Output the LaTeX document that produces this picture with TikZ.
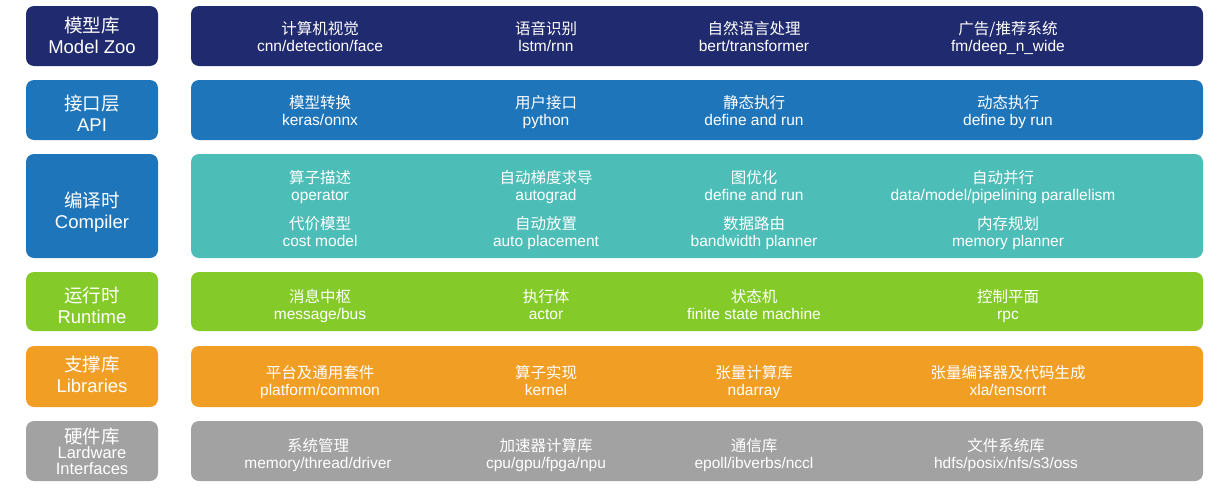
\documentclass[tikz,border=0pt]{standalone}
\usepackage{fontspec}
\setmainfont{Liberation Sans}
\newfontfamily\cjk{Noto Sans CJK SC}
\newcommand{\zh}[1]{{\cjk #1}}
\usetikzlibrary{positioning}

\begin{document}
\begin{tikzpicture}[
    x=1pt, y=-1pt,
    side/.style={rounded corners=8pt,minimum width=132pt,inner sep=0pt,align=center,text=white,font=\fontsize{18.5}{21}\selectfont,
                 execute at end node=\rule[-4.5pt]{0pt}{4.5pt}},
    push/.style={execute at begin node=\rule{0pt}{#1}},
    bar/.style={rounded corners=8pt,minimum width=1012pt,inner sep=0pt},
    item/.style={inner sep=0pt,align=center,text=white,font=\fontsize{15.5}{17}\selectfont,
                 execute at end node=\rule[-4.5pt]{0pt}{4.5pt}},
]
\definecolor{zoocol}{RGB}{32,42,110}
\definecolor{apicol}{RGB}{31,117,186}
\definecolor{compcol}{RGB}{77,189,184}
\definecolor{runcol}{RGB}{132,203,42}
\definecolor{libcol}{RGB}{241,158,37}
\definecolor{hwcol}{RGB}{162,162,162}

\useasboundingbox (0,0) rectangle (1218,490);

% ================= Model Zoo =================
\node[side,push=40pt,fill=zoocol,minimum height=60pt] (zooL) at (92,36) {\zh{模型库}\\Model Zoo};
\node[bar,fill=zoocol,minimum height=60pt] (zooR) at (697,36) {};
\node[item] (zoo1) at (320,39) {\zh{计算机视觉}\\cnn/detection/face};
\node[item] (zoo2) at (546,39) {\zh{语音识别}\\lstm/rnn};
\node[item] (zoo3) at (754,39) {\zh{自然语言处理}\\bert/transformer};
\node[item] (zoo4) at (1008,39) {\zh{广告/推荐系统}\\fm/deep\_n\_wide};

% ================= API =================
\node[side,push=47pt,fill=apicol,minimum height=60pt] (apiL) at (92,110) {\zh{接口层}\\API};
\node[bar,fill=apicol,minimum height=60pt] (apiR) at (697,110) {};
\node[item] (api1) at (320,113) {\zh{模型转换}\\keras/onnx};
\node[item] (api2) at (546,113) {\zh{用户接口}\\python};
\node[item] (api3) at (754,113) {\zh{静态执行}\\define and run};
\node[item] (api4) at (1008,113) {\zh{动态执行}\\define by run};

% ================= Compiler =================
\node[side,push=49pt,fill=apicol,minimum height=104pt] (compL) at (92,206) {\zh{编译时}\\Compiler};
\node[bar,fill=compcol,minimum height=104pt] (compR) at (697,206) {};
\node[item] (comp1) at (320,188) {\zh{算子描述}\\operator};
\node[item] (comp2) at (546,188) {\zh{自动梯度求导}\\autograd};
\node[item] (comp3) at (754,188) {\zh{图优化}\\define and run};
\node[item] (comp4) at (1003,188) {\zh{自动并行}\\data/model/pipelining parallelism};
\node[item] (comp5) at (320,234) {\zh{代价模型}\\cost model};
\node[item] (comp6) at (546,234) {\zh{自动放置}\\auto placement};
\node[item] (comp7) at (754,234) {\zh{数据路由}\\bandwidth planner};
\node[item] (comp8) at (1008,234) {\zh{内存规划}\\memory planner};

% ================= Runtime =================
\node[side,push=48pt,fill=runcol,minimum height=59pt] (runL) at (92,301.5) {\zh{运行时}\\Runtime};
\node[bar,fill=runcol,minimum height=59pt] (runR) at (697,301.5) {};
\node[item] (run1) at (320,307) {\zh{消息中枢}\\message/bus};
\node[item] (run2) at (546,307) {\zh{执行体}\\actor};
\node[item] (run3) at (754,307) {\zh{状态机}\\finite state machine};
\node[item] (run4) at (1008,307) {\zh{控制平面}\\rpc};

% ================= Libraries =================
\node[side,fill=libcol,minimum height=61pt] (libL) at (92,376.5) {\zh{支撑库}\\Libraries};
\node[bar,fill=libcol,minimum height=61pt] (libR) at (697,376.5) {};
\node[item] (lib1) at (320,383) {\zh{平台及通用套件}\\platform/common};
\node[item] (lib2) at (546,383) {\zh{算子实现}\\kernel};
\node[item] (lib3) at (754,383) {\zh{张量计算库}\\ndarray};
\node[item] (lib4) at (1008,383) {\zh{张量编译器及代码生成}\\xla/tensorrt};

% ================= Hardware =================
\node[side,push=51pt,fill=hwcol,minimum height=60pt,font=\fontsize{16.5}{15.5}\selectfont] (hwL) at (92,451) {{\fontsize{18.5}{18.5}\selectfont\zh{硬件库}}\\Lardware\\Interfaces};
\node[bar,fill=hwcol,minimum height=60pt] (hwR) at (697,451) {};
\node[item] (hw1) at (318,456) {\zh{系统管理}\\memory/thread/driver};
\node[item] (hw2) at (546,456) {\zh{加速器计算库}\\cpu/gpu/fpga/npu};
\node[item] (hw3) at (754,456) {\zh{通信库}\\epoll/ibverbs/nccl};
\node[item] (hw4) at (1006,456) {\zh{文件系统库}\\hdfs/posix/nfs/s3/oss};

\end{tikzpicture}
\end{document}
